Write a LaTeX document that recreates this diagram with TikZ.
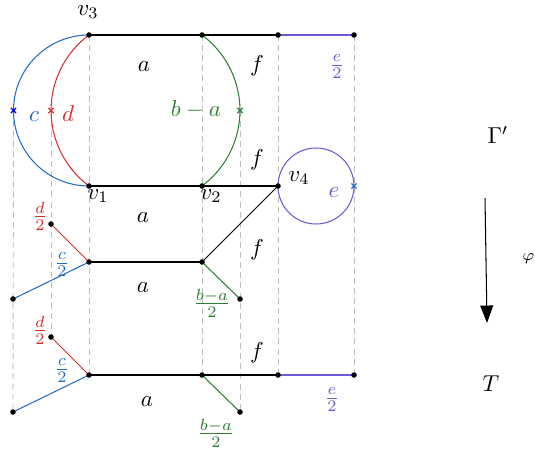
\documentclass[tikz,border=0pt]{standalone}
\usetikzlibrary{arrows.meta}
\definecolor{cblue}{RGB}{35,105,200}
\definecolor{cred}{RGB}{215,45,45}
\definecolor{cgreen}{RGB}{45,125,50}
\definecolor{cpurple}{RGB}{105,90,215}
\definecolor{cgrid}{RGB}{190,190,190}
\begin{document}
\begin{tikzpicture}[x=0.435pt,y=-0.435pt,
  guide/.style={cgrid,dash pattern=on 2.6pt off 1.8pt,line width=0.4pt},
  edge/.style={line width=0.45pt},
  dot/.style={circle,fill=black,inner sep=0pt,minimum size=2.4pt},
  lbl/.style={inner sep=0pt},
  crossmark/.style={line width=0.5pt}]
\useasboundingbox (0,0) rectangle (535,451);
% coordinates
\coordinate (T1) at (89,35);  \coordinate (T2) at (202,35);
\coordinate (T3) at (278,35); \coordinate (T4) at (354,35);
\coordinate (V1) at (89,186); \coordinate (V2) at (202,186);
\coordinate (V4) at (278,186);
\coordinate (M1) at (89,262); \coordinate (M2) at (202,262);
\coordinate (Md) at (51,224); \coordinate (Mc) at (13,299);
\coordinate (Mb) at (240,299);
\coordinate (B1) at (89,375); \coordinate (B2) at (202,375);
\coordinate (B3) at (278,375); \coordinate (B4) at (354,375);
\coordinate (Bd) at (51,337); \coordinate (Bc) at (13,412);
\coordinate (Bb) at (240,412);
\coordinate (Xc) at (13.5,110.5); \coordinate (Xd) at (51,110.5);
\coordinate (Xb) at (240,110.5); \coordinate (Xe) at (354,186);
% guides
\draw[guide] (Xc) -- (Bc);
\draw[guide] (Xd) -- (Bd);
\draw[guide] (T1) -- (B1);
\draw[guide] (T2) -- (B2);
\draw[guide] (Xb) -- (Bb);
\draw[guide] (T3) -- (B3);
\draw[guide] (T4) -- (B4);
% upper graph
\draw[edge] (T1) -- (T3);
\draw[edge,cpurple] (T3) -- (T4);
\draw[edge] (V1) -- (V4);
\draw[edge,cblue] (T1) arc[start angle=-90,end angle=-270,radius=75.5];
\draw[edge,cred] (T1) arc[start angle=-126.6,end angle=-233.4,radius=94];
\draw[edge,cgreen] (T2) arc[start angle=-53.4,end angle=53.4,radius=94];
\draw[edge,cpurple] (316,186) circle[radius=38];
% middle
\draw[edge] (M1) -- (M2);
\draw[edge] (M2) -- (V4);
\draw[edge,cred] (M1) -- (Md);
\draw[edge,cblue] (M1) -- (Mc);
\draw[edge,cgreen] (M2) -- (Mb);
% bottom
\draw[edge] (B1) -- (B3);
\draw[edge,cpurple] (B3) -- (B4);
\draw[edge,cred] (B1) -- (Bd);
\draw[edge,cblue] (B1) -- (Bc);
\draw[edge,cgreen] (B2) -- (Bb);
% dots
\foreach \p in {T1,T2,T3,T4,V1,V2,V4,M1,M2,Md,Mc,Mb,B1,B2,B3,B4,Bd,Bc,Bb}
  \node[dot] at (\p) {};
% crosses
\foreach \p/\c in {Xc/blue!90!black,Xd/cred,Xb/cgreen,Xe/cblue}
  \draw[crossmark,\c] (\p) ++(-2.6,-2.6) -- ++(5.2,5.2) ++(-5.2,0) -- ++(5.2,-5.2);
% labels
\node[lbl] (lv3) at (88,12) {$v_3$};
\node[lbl] (lv1) at (98,196) {$v_1$};
\node[lbl] (lv2) at (211,196) {$v_2$};
\node[lbl] (lv4) at (299,178) {$v_4$};
\node[lbl] (la1) at (144,67) {$a$};
\node[lbl] (lf1) at (257,66) {$f$};
\node[lbl,cpurple] (le1) at (337,67) {$\frac{e}{2}$};
\node[lbl,cgreen] (lba) at (196,109) {$b-a$};
\node[lbl,cblue] (lc) at (34,117) {$c$};
\node[lbl,cred] (ld) at (68,114) {$d$};
\node[lbl] (lf2) at (257,160) {$f$};
\node[lbl,cpurple] (le) at (334,193) {$e$};
\node[lbl,cred] (ld2a) at (40,216) {$\frac{d}{2}$};
\node[lbl,cblue] (lc2a) at (62,265) {$\frac{c}{2}$};
\node[lbl] (la2) at (143,218) {$a$};
\node[lbl] (la3) at (143,288) {$a$};
\node[lbl] (lf3) at (257,250) {$f$};
\node[lbl,cgreen] (lba2a) at (212,303) {$\frac{b-a}{2}$};
\node[lbl,cred] (ld2b) at (40,330) {$\frac{d}{2}$};
\node[lbl,cblue] (lc2b) at (62,371) {$\frac{c}{2}$};
\node[lbl] (lf4) at (257,353) {$f$};
\node[lbl] (la4) at (147,402) {$a$};
\node[lbl,cgreen] (lba2b) at (216,433) {$\frac{b-a}{2}$};
\node[lbl,cpurple] (le2) at (332,400) {$\frac{e}{2}$};
% right side
\node[lbl] (Gam) at (498,135) {$\Gamma'$};
\node[lbl] (Tt) at (491,384) {$T$};
\node[lbl,font=\scriptsize] (phi) at (528.5,259) {$\varphi$};
\coordinate (A1) at (485,198);
\coordinate (A2) at (487,323);
\draw[edge,-{Triangle[width=5.6pt,length=7.6pt]}] (A1) -- (A2);
\end{tikzpicture}
\end{document}
